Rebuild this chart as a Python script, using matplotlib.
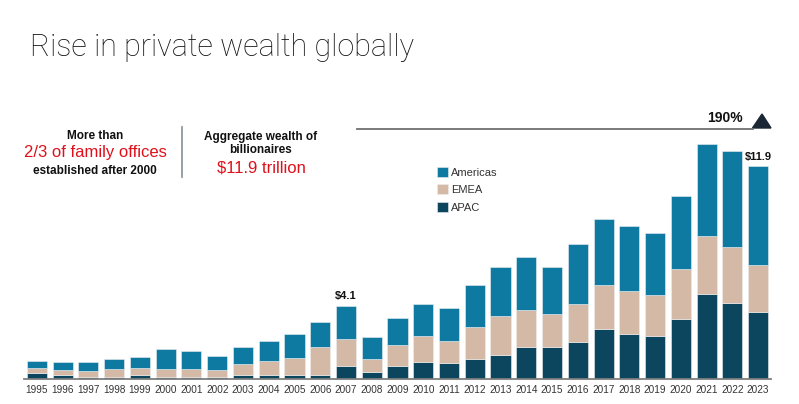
import numpy as np
import matplotlib.pyplot as plt
from matplotlib.patches import Polygon
from matplotlib.lines import Line2D

# =========================
# DATA ($ trillion)
# =========================
years = [str(y) for y in range(1995, 2024)]
apac = [0.32, 0.22, 0.09, 0.11, 0.22, 0.09, 0.09, 0.09, 0.21, 0.22,
        0.22, 0.22, 0.74, 0.41, 0.73, 0.97, 0.88, 1.10, 1.34, 1.80,
        1.77, 2.05, 2.81, 2.49, 2.40, 3.36, 4.74, 4.24, 3.75]
emea = [0.30, 0.28, 0.35, 0.43, 0.37, 0.45, 0.45, 0.41, 0.65, 0.78,
        0.97, 1.58, 1.49, 0.69, 1.17, 1.42, 1.24, 1.82, 2.19, 2.05,
        1.87, 2.15, 2.42, 2.40, 2.27, 2.79, 3.25, 3.11, 2.61]
americas = [0.39, 0.46, 0.52, 0.56, 0.61, 1.15, 1.04, 0.80, 0.95, 1.12,
            1.32, 1.39, 1.87, 1.24, 1.51, 1.82, 1.82, 2.33, 2.73, 2.97,
            2.59, 3.31, 3.68, 3.66, 3.46, 4.04, 5.10, 5.36, 5.54]
labelled = {"2007": "$4.1", "2023": "$11.9"}

c_am = "#0e7aa2"
c_em = "#d4b9a6"
c_ap = "#0b465e"

W, H = 799, 404
fig = plt.figure(figsize=(W / 100, H / 100), dpi=100)
fig.patch.set_facecolor("white")
plt.rcParams["font.family"] = ["Liberation Sans", "DejaVu Sans"]


def fx(px):
    return px / W


def fy(py):
    return 1 - py / H


ax = fig.add_axes([fx(24), fy(379), fx(771) - fx(24), fy(130) - fy(379)])

x = np.arange(len(years))
apac = np.array(apac)
emea = np.array(emea)
americas = np.array(americas)

kw = dict(width=0.78, edgecolor="#eeeeee", linewidth=0.4)
b_ap = ax.bar(x, apac, color=c_ap, label="APAC", **kw)
b_em = ax.bar(x, emea, bottom=apac, color=c_em, label="EMEA", **kw)
b_am = ax.bar(x, americas, bottom=apac + emea, color=c_am, label="Americas", **kw)

totals = apac + emea + americas
for i, yr in enumerate(years):
    if yr in labelled:
        ax.annotate(labelled[yr], (i, totals[i]), xytext=(0, 3), textcoords="offset points",
                    ha="center", va="bottom", fontsize=8, fontweight="bold", color="#111111")

ax.set_xlim(-0.5, len(years) - 0.5)
ax.set_ylim(0, 249 * 11.9 / 213.3)
ax.set_xticks(x)
ax.set_xticklabels(years, fontsize=7.2, color="#333333")
ax.tick_params(axis="x", length=0, pad=4)
ax.set_yticks([])
for s in ["top", "right", "left"]:
    ax.spines[s].set_visible(False)
ax.spines["bottom"].set_color("#7f7f7f")
ax.spines["bottom"].set_linewidth(1.3)

leg = ax.legend([b_am, b_em, b_ap], ["Americas", "EMEA", "APAC"],
                loc="upper left", bbox_to_anchor=(fx(437), fy(167)), bbox_transform=fig.transFigure,
                frameon=False, fontsize=8, handlelength=0.95, handleheight=0.95,
                labelspacing=0.62, handletextpad=0.35, borderpad=0, borderaxespad=0)
for t in leg.get_texts():
    t.set_color("#333333")

# title
fig.text(fx(30), fy(47), "Rise in private wealth globally",
         family=["Roboto", "Liberation Sans", "DejaVu Sans"], fontweight="light",
         fontsize=22, color="#111111", va="center", ha="left")

# left callout
fig.text(fx(95), fy(136), "More than", fontsize=8.5, fontweight="bold", ha="center", va="center", color="#111111")
fig.text(fx(95), fy(153), "2/3 of family offices", fontsize=12, ha="center", va="center", color="#e0101b")
fig.text(fx(95), fy(171), "established after 2000", fontsize=8.5, fontweight="bold", ha="center", va="center",
         color="#111111")
fig.add_artist(Line2D([fx(182), fx(182)], [fy(127), fy(177)], color="#8c9aa3", lw=1.3))

# right callout
fig.text(fx(261), fy(137), "Aggregate wealth of", fontsize=8.5, fontweight="bold", ha="center", va="center",
         color="#111111")
fig.text(fx(261), fy(150), "billionaires", fontsize=8.5, fontweight="bold", ha="center", va="center",
         color="#111111")
fig.text(fx(261), fy(168), "$11.9 trillion", fontsize=12, ha="center", va="center", color="#e0101b")

# growth arrow line
fig.add_artist(Line2D([fx(357), fx(753)], [fy(128.5), fy(128.5)], color="#6f6f6f", lw=1.3))
fig.add_artist(Polygon([[fx(752.5), fy(128)], [fx(771), fy(128)], [fx(762), fy(114)]],
                       closed=True, color="#1b2735", transform=fig.transFigure))
fig.text(fx(725), fy(118), "190%", fontsize=10, fontweight="bold", ha="center", va="center", color="#111111")

fig.savefig("out.png", dpi=100, facecolor="white")
